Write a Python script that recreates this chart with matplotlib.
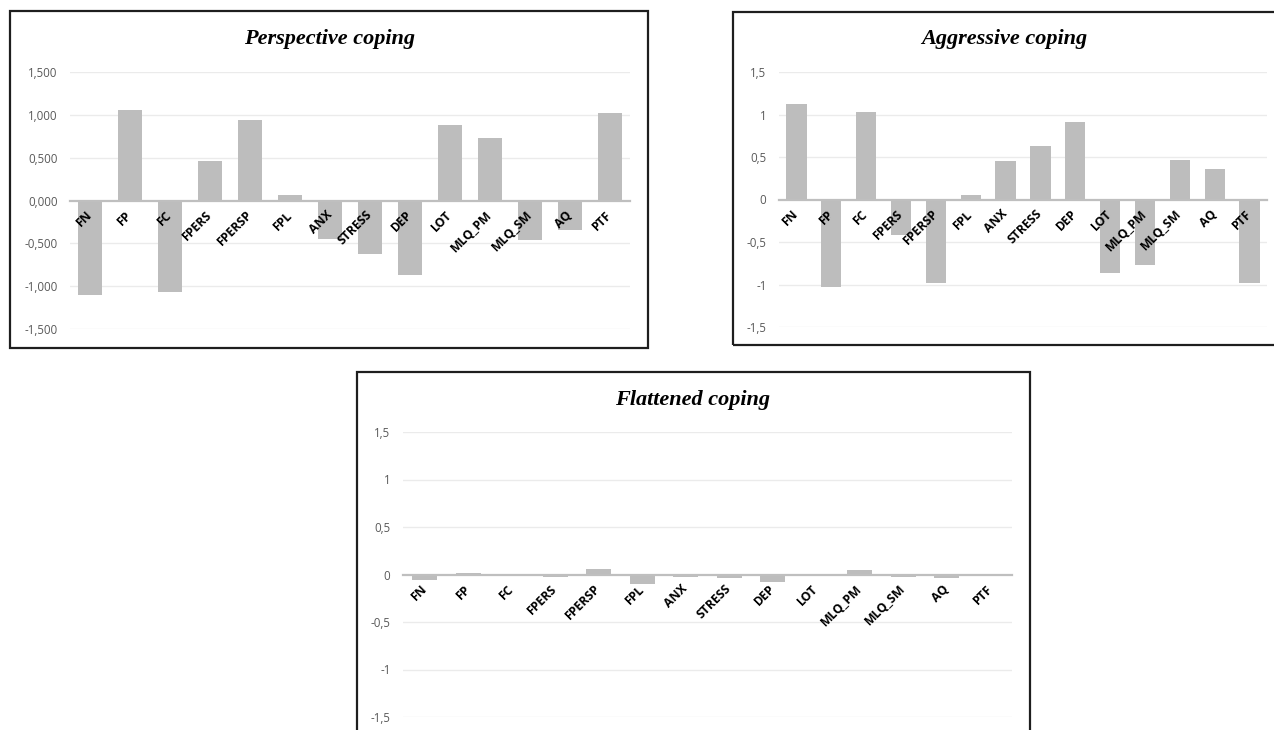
import matplotlib
matplotlib.use('Agg')
import matplotlib.pyplot as plt
from matplotlib.patches import Rectangle

W, H = 1274, 730

categories = ['FN', 'FP', 'FC', 'FPERS', 'FPERSP', 'FPL', 'ANX', 'STRESS', 'DEP',
              'LOT', 'MLQ_PM', 'MLQ_SM', 'AQ', 'PTF']

perspective_vals = [-1.105, 1.054, -1.066, 0.465, 0.942, 0.070, -0.446, -0.620,
                    -0.864, 0.880, 0.733, -0.465, -0.341, 1.023]
aggressive_vals = [1.118, -1.035, 1.024, -0.420, -0.984, 0.051, 0.451, 0.635,
                   0.910, -0.870, -0.765, 0.463, 0.361, -0.988]
flattened_vals = [-0.057, 0.018, -0.004, -0.028, 0.057, -0.096, -0.028, -0.035,
                  -0.074, -0.004, 0.046, -0.025, -0.035, -0.010]

y_ticks = [-1.5, -1.0, -0.5, 0.0, 0.5, 1.0, 1.5]
y_labels_long = ['-1,500', '-1,000', '-0,500', '0,000', '0,500', '1,000', '1,500']
y_labels_short = ['-1,5', '-1', '-0,5', '0', '0,5', '1', '1,5']

BAR_COLOR = '#bdbdbd'
GRID_COLOR = '#ebebeb'
AXIS_COLOR = '#bfbfbf'
FRAME_COLOR = '#1e1e1e'


def px_axes(fig, x0, y0, x1, y1):
    # pixel box (y from top) -> figure fraction
    return fig.add_axes([x0 / W, (H - y1) / H, (x1 - x0) / W, (y1 - y0) / H])


def add_frame(fig, x0, y0, x1, y1):
    rect = Rectangle((x0 / W, (H - y1) / H), (x1 - x0) / W, (y1 - y0) / H,
                     transform=fig.transFigure, fill=False,
                     edgecolor=FRAME_COLOR, linewidth=1.6)
    fig.add_artist(rect)


def draw_panel(ax, values, ylabels, title, title_xy, fig):
    x = list(range(len(categories)))
    # gridlines by hand so that the tick labels can sit above the bars
    for t in y_ticks:
        if t != 0:
            ax.axhline(t, color=GRID_COLOR, linewidth=1.0, zorder=0)
    ax.bar(x, values, width=0.58, color=BAR_COLOR, zorder=1)
    ax.set_xlim(-0.5, len(categories) - 0.5)
    ax.set_ylim(-1.5, 1.5)
    ax.set_yticks(y_ticks, ylabels)
    for side in ['left', 'right', 'top']:
        ax.spines[side].set_visible(False)
    ax.spines['bottom'].set_position(('data', 0))
    ax.spines['bottom'].set_color(AXIS_COLOR)
    ax.spines['bottom'].set_linewidth(1.6)
    ax.spines['bottom'].set_zorder(3)
    ax.xaxis.set_zorder(4)
    ax.yaxis.set_zorder(4)
    ax.tick_params(axis='y', length=0, pad=9, labelsize=8.3, labelcolor='#595959')
    ax.tick_params(axis='x', length=0, pad=9)
    ax.set_xticks(x)
    ax.set_xticklabels(categories, rotation=45, ha='right', va='center',
                       rotation_mode='anchor', fontsize=8.8, fontweight='bold',
                       color='black')
    for lab in ax.get_yticklabels():
        lab.set_family('Open Sans')
    for lab in ax.get_xticklabels():
        lab.set_family('Open Sans')
    fig.text(title_xy[0] / W, 1 - title_xy[1] / H, title, ha='center', va='center',
             fontsize=16, fontweight='bold', fontstyle='italic',
             family='Liberation Serif')


def main():
    fig = plt.figure(figsize=(W / 100, H / 100), dpi=100)
    fig.patch.set_facecolor('white')

    add_frame(fig, 10, 11, 648, 348)
    add_frame(fig, 733, 12, 1285, 345)
    add_frame(fig, 357, 372, 1030, 745)

    ax1 = px_axes(fig, 70, 72, 630, 329)
    draw_panel(ax1, perspective_vals, y_labels_long, 'Perspective coping', (330, 39), fig)

    ax2 = px_axes(fig, 779, 72, 1267, 327)
    draw_panel(ax2, aggressive_vals, y_labels_short, 'Aggressive coping', (1004, 39), fig)

    ax3 = px_axes(fig, 403, 432, 1012, 717)
    draw_panel(ax3, flattened_vals, y_labels_short, 'Flattened coping', (693, 400), fig)

    fig.savefig('out.png', dpi=100)


if __name__ == "__main__":
    main()
